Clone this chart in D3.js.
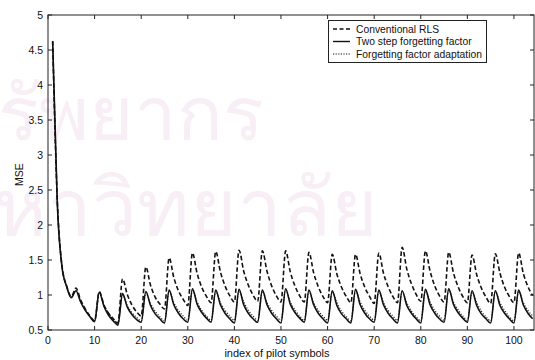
<!DOCTYPE html>
<html>
<head>
<meta charset="utf-8">
<script src="https://cdn.jsdelivr.net/npm/d3@7"></script>
<style>
  body { margin: 0; background: #fff; }
  svg { display: block; }
  text { font-family: "Liberation Sans", Arial, sans-serif; fill: #111; }
</style>
</head>
<body>
<svg id="chart" width="535" height="360"></svg>
<script>
// index of pilot symbols (1-based, as in the plot)
const symbolIndex = d3.range(1, 105);

// Conventional RLS (dashed)
const conventionalRLS = [
  4.63, 2.35, 1.42, 1.13, 0.98,
  1.10, 0.93, 0.80, 0.70, 0.63,
  1.05, 0.86, 0.74, 0.66, 0.60,
  1.23, 1.01, 0.86, 0.76, 0.70,
  1.40, 1.14, 0.97, 0.87, 0.80,
  1.53, 1.25, 1.06, 0.94, 0.85,
  1.60, 1.31, 1.11, 0.98, 0.89,
  1.62, 1.33, 1.13, 0.99, 0.90,
  1.64, 1.34, 1.14, 1.00, 0.91,
  1.63, 1.34, 1.13, 0.99, 0.90,
  1.63, 1.33, 1.13, 0.99, 0.90,
  1.61, 1.32, 1.12, 0.98, 0.89,
  1.58, 1.30, 1.11, 0.98, 0.89,
  1.58, 1.30, 1.11, 0.98, 0.88,
  1.60, 1.31, 1.12, 0.98, 0.89,
  1.68, 1.37, 1.16, 1.01, 0.91,
  1.63, 1.34, 1.13, 0.99, 0.90,
  1.61, 1.32, 1.12, 0.98, 0.89,
  1.57, 1.29, 1.10, 0.97, 0.88,
  1.59, 1.31, 1.11, 0.98, 0.89,
  1.60, 1.31, 1.12, 0.99
];

// Two step forgetting factor (solid)
const twoStepFF = [
  4.62, 2.30, 1.40, 1.12, 0.96,
  1.06, 0.90, 0.78, 0.69, 0.62,
  1.04, 0.84, 0.71, 0.63, 0.57,
  1.02, 0.83, 0.72, 0.65, 0.61,
  1.05, 0.85, 0.73, 0.66, 0.60,
  1.07, 0.86, 0.74, 0.66, 0.61,
  1.09, 0.87, 0.75, 0.67, 0.61,
  1.07, 0.86, 0.74, 0.66, 0.60,
  1.08, 0.86, 0.74, 0.66, 0.61,
  1.07, 0.86, 0.74, 0.66, 0.60,
  1.09, 0.87, 0.75, 0.67, 0.61,
  1.07, 0.86, 0.74, 0.66, 0.60,
  1.06, 0.85, 0.73, 0.66, 0.60,
  1.08, 0.86, 0.74, 0.66, 0.61,
  1.07, 0.86, 0.74, 0.66, 0.60,
  1.06, 0.85, 0.74, 0.66, 0.60,
  1.08, 0.86, 0.74, 0.66, 0.61,
  1.09, 0.87, 0.75, 0.67, 0.61,
  1.06, 0.85, 0.73, 0.66, 0.60,
  1.06, 0.85, 0.74, 0.66, 0.60,
  1.07, 0.86, 0.74, 0.66
];

// Forgetting factor adaptation (dotted)
const ffAdaptation = [
  4.62, 2.32, 1.41, 1.12, 0.97,
  1.07, 0.91, 0.79, 0.70, 0.63,
  1.03, 0.86, 0.74, 0.66, 0.60,
  1.00, 0.85, 0.75, 0.68, 0.63,
  1.03, 0.88, 0.77, 0.69, 0.63,
  1.05, 0.89, 0.78, 0.70, 0.64,
  1.06, 0.90, 0.78, 0.70, 0.64,
  1.05, 0.89, 0.78, 0.70, 0.64,
  1.06, 0.90, 0.78, 0.70, 0.64,
  1.05, 0.89, 0.78, 0.70, 0.64,
  1.07, 0.90, 0.79, 0.70, 0.64,
  1.05, 0.89, 0.78, 0.70, 0.64,
  1.04, 0.89, 0.77, 0.69, 0.63,
  1.06, 0.90, 0.78, 0.70, 0.64,
  1.05, 0.89, 0.78, 0.70, 0.64,
  1.05, 0.89, 0.77, 0.69, 0.63,
  1.06, 0.90, 0.78, 0.70, 0.64,
  1.07, 0.90, 0.79, 0.70, 0.64,
  1.04, 0.89, 0.77, 0.69, 0.63,
  1.04, 0.89, 0.78, 0.69, 0.63,
  1.05, 0.89, 0.78, 0.70
];

const xTicks = [0, 10, 20, 30, 40, 50, 60, 70, 80, 90, 100];
const yTicks = [0.5, 1, 1.5, 2, 2.5, 3, 3.5, 4, 4.5, 5];
const seriesNames = ['Conventional RLS', 'Two step forgetting factor', 'Forgetting factor adaptation'];

const svg = d3.select('#chart');
const m = { left: 48, right: 534, top: 15, bottom: 330 };

const x = d3.scaleLinear().domain([0, 104.3]).range([m.left, m.right]);
const y = d3.scaleLinear().domain([0.5, 5]).range([m.bottom, m.top]);

// faint library watermark of the scanned page, kept behind everything
const wm = svg.append('g').attr('class', 'watermark')
  .style('font-family', '"Noto Sans Thai", "Noto Sans", sans-serif');
wm.append('text').attr('x', -2).attr('y', 140).attr('font-size', 76)
  .style('fill', '#f8eef5').text('รัพยากร');
wm.append('text').attr('x', -6).attr('y', 236).attr('font-size', 80)
  .style('fill', '#f8eef5').text('หาวิทยาลัย');

// axes box
svg.append('rect')
  .attr('x', m.left).attr('y', m.top)
  .attr('width', m.right - m.left).attr('height', m.bottom - m.top)
  .attr('fill', 'none').attr('stroke', '#222').attr('stroke-width', 1);

const tickLen = 4;
const axisG = svg.append('g').attr('stroke', '#222').attr('stroke-width', 1);

xTicks.forEach(t => {
  axisG.append('line').attr('x1', x(t)).attr('x2', x(t)).attr('y1', m.bottom).attr('y2', m.bottom - tickLen);
  axisG.append('line').attr('x1', x(t)).attr('x2', x(t)).attr('y1', m.top).attr('y2', m.top + tickLen);
});
yTicks.forEach(t => {
  axisG.append('line').attr('x1', m.left).attr('x2', m.left + tickLen).attr('y1', y(t)).attr('y2', y(t));
  axisG.append('line').attr('x1', m.right).attr('x2', m.right - tickLen).attr('y1', y(t)).attr('y2', y(t));
});

svg.append('g').selectAll('text').data(xTicks).enter().append('text')
  .attr('x', d => x(d)).attr('y', m.bottom + 14)
  .attr('text-anchor', 'middle').attr('font-size', 10.5)
  .text(d => d);

svg.append('g').selectAll('text').data(yTicks).enter().append('text')
  .attr('x', m.left - 5).attr('y', d => y(d) + 3.8)
  .attr('text-anchor', 'end').attr('font-size', 10.5)
  .text(d => d);

svg.append('text')
  .attr('transform', `translate(23,${(m.top + m.bottom) / 2 + 2}) rotate(-90)`)
  .attr('text-anchor', 'middle').attr('font-size', 10.5)
  .text('MSE');

svg.append('text')
  .attr('x', 277).attr('y', 357)
  .attr('text-anchor', 'middle').attr('font-size', 11)
  .text('index of pilot symbols');

// curves
const line = d3.line()
  .x((d, i) => x(symbolIndex[i]))
  .y(d => y(d))
  .curve(d3.curveMonotoneX);

const plot = svg.append('g');
plot.append('path').datum(ffAdaptation)
  .attr('d', line).attr('fill', 'none')
  .attr('stroke', '#222').attr('stroke-width', 1.2).attr('stroke-dasharray', '1.2,1.6');
plot.append('path').datum(twoStepFF)
  .attr('d', line).attr('fill', 'none')
  .attr('stroke', '#111').attr('stroke-width', 1.6);
plot.append('path').datum(conventionalRLS)
  .attr('d', line).attr('fill', 'none')
  .attr('stroke', '#111').attr('stroke-width', 1.6).attr('stroke-dasharray', '4.5,2.5');

// legend
const lg = svg.append('g');
lg.append('rect').attr('x', 328.5).attr('y', 20.5).attr('width', 158).attr('height', 42)
  .attr('fill', '#fff').attr('stroke', '#222').attr('stroke-width', 1);
const dashes = ['4,2.5', null, '1.2,1.4'];
seriesNames.forEach((name, i) => {
  const yy = 29 + i * 12.5;
  lg.append('line').attr('x1', 333).attr('x2', 350).attr('y1', yy).attr('y2', yy)
    .attr('stroke', '#111').attr('stroke-width', i === 2 ? 1.1 : 1.4)
    .attr('stroke-dasharray', dashes[i]);
  lg.append('text').attr('x', 356).attr('y', yy + 3.5)
    .attr('font-size', 10.3)
    .style('font-family', '"Liberation Sans Narrow", "Arial Narrow", sans-serif')
    .text(name);
});
</script>
</body>
</html>
